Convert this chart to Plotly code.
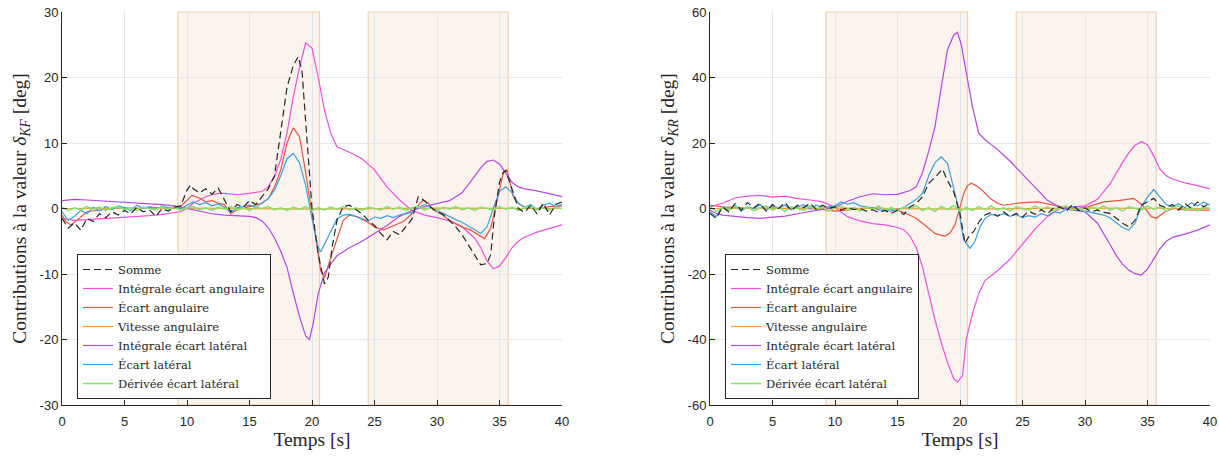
import plotly.graph_objects as go

# ---------------- data : left plot (delta_KF) ----------------
T_GRID = [i * 0.5 for i in range(81)]

L_iang_t = [0, 1, 2, 3, 4, 5, 6, 7, 8, 9, 9.5, 10, 10.5, 11, 11.5, 12, 12.5, 13, 14, 15, 16, 16.5, 17, 17.5,
            18, 18.5, 19, 19.5, 20, 20.5, 21, 21.5, 22, 22.5, 23, 24, 25, 26, 27, 28, 29, 30, 31, 32, 33,
            33.5, 34, 34.5, 35, 35.5, 36, 36.5, 37, 38, 39, 40]
L_iang_v = [-1.5, -1.8, -1.7, -1.6, -1.5, -1.4, -1.2, -1.1, -0.9, -0.7, -0.5, 0.0, 0.8, 1.3, 1.8, 2.1, 2.3,
            2.3, 2.1, 2.3, 2.6, 3.3, 4.9, 7.5, 11.5, 17, 21.6, 25.3, 24.5, 20, 15, 11.5, 9.4, 9.0, 8.6, 7.6,
            5.9, 3.3, 1.3, -0.3, -1.0, -1.4, -1.9, -2.8, -4.5, -6.0, -8.0, -9.2, -8.8, -7.5, -6.0, -5.0,
            -4.4, -3.6, -3.0, -2.5]

L_ilat_t = [0, 1, 2, 3, 4, 5, 6, 7, 8, 9, 10, 11, 12, 13, 14, 15, 15.5, 16, 16.5, 17, 17.5, 18, 18.5, 19,
            19.5, 19.8, 20.1, 20.5, 21, 21.5, 22, 23, 24, 25, 26, 27, 28, 29, 30, 31, 32, 32.5, 33, 33.5,
            34, 34.5, 35, 35.5, 36, 36.5, 37, 38, 39, 40]
L_ilat_v = [1.2, 1.4, 1.3, 1.2, 1.1, 1.0, 0.9, 0.8, 0.6, 0.4, 0.0, -0.5, -0.8, -1.0, -1.1, -1.2, -1.4, -1.9,
            -2.9, -4.5, -6.5, -9.0, -12.9, -16.5, -19.5, -20, -17.5, -13, -9.8, -8.4, -7.2, -6.0, -5.0,
            -3.8, -2.6, -1.2, -0.3, 0.3, 0.7, 1.2, 2.4, 3.6, 4.9, 6.2, 7.2, 7.4, 6.8, 5.4, 4.0, 3.3, 3.0,
            2.7, 2.3, 1.8]

L_ang_t = [0, 0.3, 0.7, 1.2, 2, 3, 4, 5, 6, 7, 8, 9, 9.5, 10, 10.4, 11, 11.5, 12, 12.5, 13, 13.5, 14, 15,
           16, 16.5, 17, 17.5, 18, 18.5, 19, 19.5, 20, 20.3, 20.7, 21, 21.5, 22, 22.5, 23, 23.5, 24.4, 25,
           25.7, 26.5, 27.3, 28, 28.4, 28.9, 29.3, 29.7, 30.3, 31, 32, 32.7, 33.3, 33.8, 34.3, 34.8, 35.3,
           35.6, 36.1, 36.5, 37, 38, 39, 40]
L_ang_v = [-1.0, -2.0, -2.5, -1.8, -0.5, -0.2, 0.0, 0.1, 0.0, 0.2, 0.1, 0.0, 0.3, 1.2, 2.0, 1.6, 1.0, 1.2,
           0.8, 0.6, -0.8, -0.2, 0.3, 0.8, 1.5, 3.3, 5.9, 10, 12.3, 11, 5.4, -0.5, -4.5, -9.5, -10.6, -7.5,
           -4.5, -1.8, -1.0, -1.2, -2.0, -2.8, -3.3, -2.7, -2.0, -0.8, 0.3, 1.3, 0.8, -0.2, -0.8, -1.8,
           -2.8, -3.3, -4.0, -4.6, -3.0, 1.3, 5.4, 5.9, 1.8, 0.8, 0.2, 0.0, 0.3, 0.4]

L_vit_t = [0, 10, 20, 30, 40]
L_vit_v = [0.0, 0.05, -0.1, 0.05, 0.0]

L_lat_t = [0, 0.5, 1, 1.5, 2, 2.5, 3, 3.5, 4, 4.5, 5, 5.5, 6, 6.5, 7, 7.5, 8, 8.5, 9, 9.5, 10, 10.5, 11,
           11.5, 12, 12.5, 13, 13.5, 14, 14.5, 15, 15.5, 16, 16.5, 17, 17.5, 18, 18.5, 19, 19.5, 20, 20.5,
           20.7, 21, 21.5, 22, 22.5, 23, 23.5, 24, 24.5, 25, 25.5, 26, 26.5, 27, 27.5, 28, 28.5, 29, 29.5,
           30, 30.5, 31, 31.5, 32, 32.5, 33, 33.5, 34, 34.5, 35, 35.5, 36, 36.5, 37, 37.5, 38, 38.5, 39,
           39.5, 40]
L_lat_v = [-0.5, -1.8, -1.2, -0.3, -0.8, 0.2, -0.4, 0.3, -0.2, 0.4, 0.1, -0.3, 0.5, 0.0, 0.3, -0.2, 0.4,
           0.1, 0.2, 0.0, 0.5, 1.0, 0.6, 0.9, 0.4, 0.7, 0.2, -0.6, 0.1, 0.3, 0.5, 0.2, 0.8, 1.5, 2.8, 5.0,
           7.6, 8.4, 7.0, 3.5, -1.5, -6.0, -6.6, -5.5, -3.5, -1.6, -1.0, -0.9, -1.2, -1.6, -1.9, -1.3,
           -1.5, -1.1, -1.4, -1.0, -0.8, -0.6, 0.2, 0.6, 0.2, -0.3, -0.8, -1.3, -1.7, -2.1, -2.6, -3.2,
           -3.8, -2.8, 0.0, 2.6, 3.3, 2.4, 0.8, 0.2, 0.6, -0.2, 0.5, 0.8, 0.3, 0.6]

L_sum_t = [0, 0.5, 1, 1.5, 2, 2.5, 3, 3.5, 4, 4.5, 5, 5.5, 6, 6.5, 7, 7.5, 8, 8.5, 9, 9.5, 10, 10.3, 10.5,
           11, 11.5, 12, 12.5, 13, 13.5, 14, 14.5, 15, 15.5, 16, 16.5, 17, 17.5, 18, 18.5, 18.9, 19.2, 19.5,
           19.8, 20, 20.5, 21, 21.3, 21.6, 22, 22.5, 23, 23.5, 24, 24.5, 25, 25.5, 26, 26.5, 27, 27.5, 28,
           28.5, 29, 29.5, 30, 30.5, 31, 31.5, 32, 32.5, 33, 33.5, 34, 34.3, 34.6, 35, 35.3, 35.5, 36, 36.5,
           37, 37.5, 38, 38.5, 39, 39.5, 40]
L_sum_v = [-1.5, -3.0, -2.2, -3.3, -1.5, -2.0, -0.8, -1.4, -0.5, -1.0, -0.3, -0.8, 0.2, -0.5, -0.2, -1.2,
           0.0, -0.4, 0.2, 0.4, 2.8, 3.6, 3.0, 2.4, 3.0, 2.2, 3.1, 1.3, -0.5, 0.6, 0.2, 1.2, 0.6, 1.8, 3.0,
           5.0, 12, 18.5, 21.8, 23.2, 21, 12.5, 5.5, 0.0, -7, -11.5, -10.5, -6.0, -1.8, 0.3, 0.5, -0.2,
           -0.8, -1.8, -2.6, -3.8, -4.8, -3.5, -4.0, -2.8, -1.6, 1.8, 1.2, 0.2, -0.5, -0.9, -1.8, -2.8,
           -4.0, -5.5, -7.2, -8.6, -8.4, -7.0, -1.0, 4.0, 5.5, 5.8, 3.0, 0.0, -0.6, 0.5, -0.8, 0.8, -1.0,
           0.6, 1.0]

L_der_v = [0.2, -0.3, 0.1, -0.2, 0.3, -0.1, 0.2, -0.3, 0.1, 0.3, -0.2, 0.1, -0.3, 0.2, 0.0, -0.2, 0.3,
           -0.1, 0.2, -0.3, 0.1, 0.3, -0.2, 0.1, -0.3, 0.2, -0.1, 0.3, -0.2, 0.1, -0.3, 0.2, 0.0, 0.3, -0.2,
           0.1, -0.3, 0.2, -0.1, 0.3, -0.3, 0.1, -0.2, 0.2, -0.1, 0.3, -0.2, 0.1, -0.3, 0.2, 0.0, -0.2, 0.3,
           -0.1, 0.2, -0.3, 0.1, 0.3, -0.2, 0.1, -0.3, 0.2, -0.1, 0.3, -0.2, 0.1, -0.3, 0.2, 0.0, -0.2, 0.3,
           -0.1, 0.2, -0.3, 0.1, 0.3, -0.2, 0.1, -0.3, 0.2, 0.0]

# ---------------- data : right plot (delta_KR) ----------------
R_iang_t = [0, 0.5, 1, 2, 3, 4, 5, 6, 7, 8, 9, 10, 10.5, 11, 12, 13, 14, 15, 15.5, 16, 16.5, 17, 17.5, 18,
            18.5, 19, 19.5, 19.8, 20.2, 20.5, 21, 21.5, 22, 22.5, 23, 24, 25, 26, 27, 28, 29, 30, 31, 32,
            33, 33.5, 34, 34.5, 35, 35.5, 36, 36.5, 37, 38, 39, 40]
R_iang_v = [0.5, 1.0, 1.6, 3.2, 3.8, 4.0, 3.5, 3.8, 3.0, 2.6, 2.0, 0.3, -1.0, -2.5, -3.8, -4.6, -5.0, -5.8,
            -6.5, -8.4, -12, -17.8, -26, -34, -41, -47, -52, -53, -51, -40, -32, -26, -22, -20.5, -19,
            -15.5, -11, -6.3, -2.5, 0.0, 0.5, 0.8, 2.8, 7.5, 14.0, 17.0, 19.3, 20.4, 19.5, 16.0, 12.0, 10.0,
            9.0, 7.8, 7.0, 6.0]

R_ilat_t = [0, 0.5, 1, 2, 3, 4, 5, 6, 7, 8, 9, 10, 11, 12, 13, 14, 15, 16, 16.5, 17, 17.5, 18, 18.5, 19,
            19.5, 19.8, 20.1, 20.5, 21, 21.5, 22, 22.5, 23, 24, 25, 26, 27, 28, 29, 30, 31, 32, 32.5, 33,
            33.5, 34, 34.5, 35, 35.5, 36, 36.5, 37, 38, 39, 40]
R_ilat_v = [-0.5, -1.5, -2.0, -2.5, -2.8, -3.0, -2.6, -2.3, -1.6, -1.0, -0.4, 0.4, 2.2, 3.6, 4.5, 4.2, 4.3,
            5.5, 6.6, 11, 17.5, 25, 37, 48.5, 53, 53.8, 50, 41.5, 31, 23, 21, 19.5, 18, 14.5, 10.5, 6.5,
            2.5, 0.3, -0.5, -1.0, -4.5, -11, -14.3, -17, -18.8, -19.9, -20.3, -18.5, -15.5, -12.3, -10,
            -8.8, -7.8, -6.6, -5.0]

R_ang_t = [0, 1, 2, 3, 4, 5, 6, 7, 8, 9, 10, 11, 12, 13, 14, 15, 15.5, 16, 16.5, 17, 17.5, 18, 18.5, 18.8,
           19.2, 19.6, 20, 20.3, 20.6, 20.9, 21.3, 21.8, 22.4, 23, 23.5, 24.8, 26.2, 27.5, 28.8, 30.2,
           31.5, 32.8, 33.9, 34.6, 35.3, 35.7, 36.4, 37.1, 38, 39, 40]
R_ang_v = [1.0, 0.5, 0.3, 0.2, 0.0, 0.2, 0.0, 0.1, 0.0, -0.3, -0.8, -0.5, -0.2, 0.3, 0.0, -0.5, -1.2, -2.0,
           -3.0, -4.5, -6.0, -7.6, -8.2, -8.4, -7.5, -5.0, 0.5, 4.6, 7.0, 7.7, 7.0, 5.5, 3.1, 1.6, 1.0,
           1.7, 2.0, 1.0, 0.0, 0.5, 2.0, 2.5, 3.1, 1.0, -2.5, -3.0, -1.0, 0.0, -0.4, -0.5, -0.5]

R_vit_t = [0, 10, 20, 30, 40]
R_vit_v = [0.0, 0.1, -0.2, 0.1, 0.0]

R_lat_t = [0, 0.5, 1, 1.5, 2, 2.5, 3, 3.5, 4, 4.5, 5, 5.5, 6, 6.5, 7, 7.5, 8, 8.5, 9, 9.5, 10, 10.5, 11,
           11.5, 12, 12.5, 13, 13.5, 14, 14.5, 15, 15.5, 16, 16.5, 17, 17.5, 18, 18.5, 19, 19.5, 19.8,
           20.3, 20.8, 21.2, 21.6, 22, 22.5, 23, 23.5, 24, 24.5, 25, 25.5, 26, 26.5, 27, 27.5, 28, 28.5,
           29, 29.5, 30, 30.5, 31, 31.5, 32, 32.5, 33, 33.5, 34, 34.5, 35, 35.5, 36, 36.5, 37, 37.5, 38,
           38.5, 39, 39.5, 40]
R_lat_v = [-1.0, -2.5, 0.5, -0.5, 1.0, -0.8, 0.6, 0.0, 1.2, -0.6, 0.8, 0.2, 1.0, -0.4, 0.5, 1.2, 0.0, 1.0,
           0.2, 0.6, 0.8, 2.0, 1.3, 1.8, 0.8, 0.5, 0.2, -0.4, -0.5, -0.8, -0.3, 0.3, 1.5, 2.8, 4.6, 10.0,
           14.0, 15.8, 13.8, 5.6, 1.5, -9.6, -12.2, -10.0, -5.6, -3.0, -1.8, -2.2, -1.6, -2.4, -1.8, -2.8,
           -2.2, -2.6, -1.6, -2.2, -1.0, -1.4, -0.2, 0.6, -0.5, -0.8, -1.2, -1.6, -2.0, -2.8, -4.4, -5.8,
           -6.6, -4.5, 0.5, 3.5, 5.8, 3.5, 1.2, 0.6, 1.5, 0.2, 1.8, 0.8, 2.0, 1.0]

R_sum_t = [0, 0.5, 1, 1.5, 2, 2.5, 3, 3.5, 4, 4.5, 5, 5.5, 6, 6.5, 7, 7.5, 8, 8.5, 9, 9.5, 10, 10.5, 11,
           11.5, 12, 12.5, 13, 13.5, 14, 14.5, 15, 15.5, 16, 16.5, 17, 17.5, 18, 18.3, 18.6, 19, 19.5, 19.8,
           20.0, 20.4, 20.8, 21.1, 21.6, 22, 22.5, 23, 23.5, 24, 24.5, 25, 25.5, 26, 26.5, 27, 27.5, 28,
           28.5, 29, 29.5, 30, 30.5, 31, 31.5, 32, 32.5, 33, 33.5, 34, 34.5, 35, 35.5, 36, 36.5, 37, 37.5,
           38, 38.5, 39, 39.5, 40]
R_sum_v = [-1.5, -3.0, 0.5, -1.0, 1.5, -0.5, 1.8, 0.2, 1.5, -0.8, 1.2, 0.0, 1.8, -0.6, 1.0, 0.3, 1.6, -0.2,
           1.0, 0.0, 0.5, -0.5, 0.3, -0.3, 0.0, -0.8, -0.4, -1.2, -0.6, -1.5, -0.5, -1.8, 0.5, 1.5, 3.6,
           7.7, 9.5, 10.7, 12.0, 8.5, 5.0, 1.0, -1.5, -10.6, -8.0, -7.0, -3.6, -2.0, -1.2, -2.4, -1.0,
           -2.5, -1.5, -2.6, -0.8, -1.8, -0.4, -1.6, 0.2, 0.5, -0.8, 1.2, -0.6, 0.2, -1.0, -0.5, -1.2,
           -1.5, -3.0, -4.5, -5.6, -3.6, 1.0, 2.0, 3.1, 1.0, 0.2, 1.2, -0.5, 1.5, 0.0, 2.0, 0.5, 1.8]

R_der_v = [0.5, -0.8, 0.3, -0.5, 0.7, -0.3, 0.5, -0.7, 0.2, 0.8, -0.5, 0.3, -0.8, 0.5, 0.0, -0.6, 0.8,
           -0.3, 0.5, -0.8, 0.3, 0.7, -0.5, 0.3, -0.8, 0.5, -0.3, 0.8, -0.6, 0.3, -0.8, 0.5, 0.0, 0.8, -0.6,
           0.3, -0.9, 0.6, -0.3, 0.9, -0.9, 0.3, -0.6, 0.6, -0.3, 0.8, -0.5, 0.3, -0.8, 0.5, 0.0, -0.5, 0.8,
           -0.3, 0.5, -0.8, 0.3, 0.8, -0.5, 0.3, -0.8, 0.5, -0.3, 0.8, -0.5, 0.3, -0.8, 0.5, 0.0, -0.5, 0.8,
           -0.3, 0.5, -0.8, 0.3, 0.8, -0.5, 0.3, -0.8, 0.5, 0.0]

# shaded phases [s]
PHASES = [(9.28, 20.6), (24.5, 35.7)]

NAMES = ["Somme", "Intégrale écart angulaire", "Écart angulaire", "Vitesse angulaire",
         "Intégrale écart latéral", "Écart latéral", "Dérivée écart latéral"]
COLORS = ["#262626", "#f050e2", "#ec5440", "#f0a030", "#b746e4", "#3ba0df", "#88e070"]

Y_TICKS_L = [-30, -20, -10, 0, 10, 20, 30]
Y_TICKS_R = [-60, -40, -20, 0, 20, 40, 60]
X_TICKS = [0, 5, 10, 15, 20, 25, 30, 35, 40]

# ---------------- figure ----------------
fig = go.Figure()

series_L = [(L_sum_t, L_sum_v), (L_iang_t, L_iang_v), (L_ang_t, L_ang_v), (L_vit_t, L_vit_v),
            (L_ilat_t, L_ilat_v), (L_lat_t, L_lat_v), (T_GRID, L_der_v)]
series_R = [(R_sum_t, R_sum_v), (R_iang_t, R_iang_v), (R_ang_t, R_ang_v), (R_vit_t, R_vit_v),
            (R_ilat_t, R_ilat_v), (R_lat_t, R_lat_v), (T_GRID, R_der_v)]

draw_order = [1, 2, 3, 4, 5, 6, 0]
for series, xa, ya, lg in [(series_L, "x", "y", "legend"), (series_R, "x2", "y2", "legend2")]:
    for k in draw_order:
        t, v = series[k]
        fig.add_trace(go.Scatter(
            x=t, y=v, mode="lines", name=NAMES[k], xaxis=xa, yaxis=ya, legend=lg,
            legendrank=k + 1,
            line=dict(color=COLORS[k], width=1.2 if k != 6 else 1.6,
                      dash="7px,4px" if k == 0 else "solid"),
            hoverinfo="skip"))

for xref in ["x", "x2"]:
    for a, b in PHASES:
        fig.add_shape(type="rect", xref=xref, yref=xref.replace("x", "y") + " domain",
                      x0=a, x1=b, y0=0, y1=1, layer="below",
                      fillcolor="#fbf3ee", line=dict(color="#f3cfae", width=1.2))

W, H = 1219, 459


def fx(px):
    return px / W


def fy(py):
    return 1 - py / H


yd = [fy(405), fy(12)]
tickfont = dict(family="Liberation Sans, Arial", size=13, color="#262626")
titlefont = dict(family="Liberation Serif", size=19.5, color="#262626")
legfont = dict(family="DejaVu Serif", size=11.5, color="#262626")

axis_common = dict(showline=True, linecolor="#262626", linewidth=1, ticks="inside", ticklen=5,
                   tickcolor="#262626", showgrid=True, gridcolor="#e6e6e6", gridwidth=1,
                   zeroline=False, tickfont=tickfont, mirror=False, automargin=False)

fig.update_layout(
    width=W, height=H, margin=dict(l=0, r=0, t=0, b=0, pad=0, autoexpand=False),
    paper_bgcolor="white", plot_bgcolor="white", showlegend=True,
    xaxis=dict(domain=[fx(62), fx(562)], range=[0, 40], tickvals=X_TICKS, anchor="y",
               ticklabelstandoff=4,
               title=dict(text="Temps [s]", font=titlefont, standoff=2), **axis_common),
    yaxis=dict(domain=yd, range=[-30, 30], tickvals=Y_TICKS_L, ticktext=[str(v) for v in Y_TICKS_L],
               anchor="x",
               title=dict(text="Contributions à la valeur <i>δ</i><sub><i>KF</i></sub> [deg]",
                          font=titlefont, standoff=7), **axis_common),
    xaxis2=dict(domain=[fx(710), fx(1210)], range=[0, 40], tickvals=X_TICKS, anchor="y2",
                ticklabelstandoff=4,
                title=dict(text="Temps [s]", font=titlefont, standoff=2), **axis_common),
    yaxis2=dict(domain=yd, range=[-60, 60], tickvals=Y_TICKS_R, ticktext=[str(v) for v in Y_TICKS_R],
                anchor="x2",
                title=dict(text="Contributions à la valeur <i>δ</i><sub><i>KR</i></sub> [deg]",
                           font=titlefont, standoff=7), **axis_common),
    legend=dict(x=fx(77), y=fy(254), xanchor="left", yanchor="top", bgcolor="white",
                bordercolor="#262626", borderwidth=1, tracegroupgap=0, font=legfont),
    legend2=dict(x=fx(725), y=fy(254), xanchor="left", yanchor="top", bgcolor="white",
                 bordercolor="#262626", borderwidth=1, tracegroupgap=0, font=legfont),
)

# remove the browser's default 8 px page margin so the figure sits at (0, 0); hide the modebar
fig.write_html("out.html", config={"displayModeBar": False},
               post_script="document.body.style.margin='0px';")
